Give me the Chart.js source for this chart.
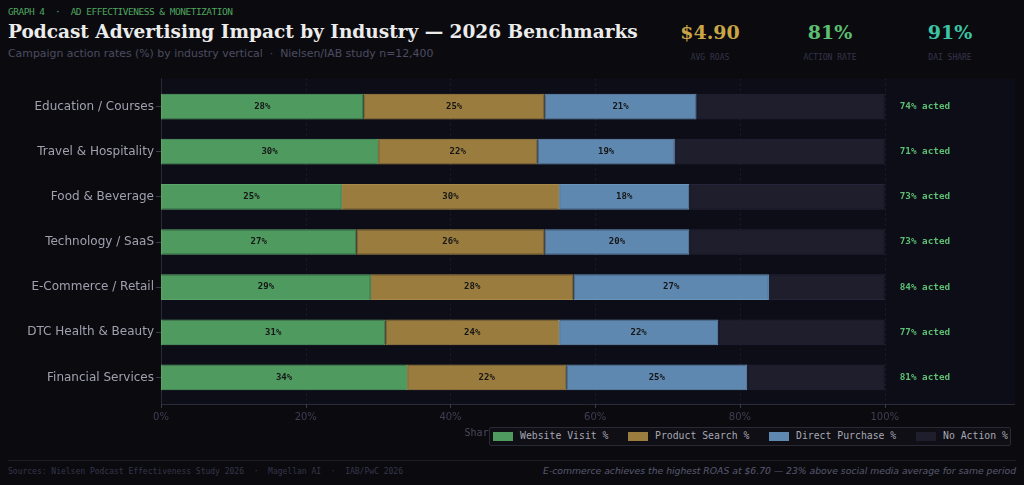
<!DOCTYPE html>
<html>
<head>
<meta charset="utf-8">
<script src="https://cdn.jsdelivr.net/npm/chart.js@4.4.1/dist/chart.umd.min.js"></script>
<style>
  html, body { margin: 0; padding: 0; background: #0b0b0f; }
  body { width: 1024px; height: 485px; position: relative; overflow: hidden; font-family: "DejaVu Sans", sans-serif; }
  .kicker { position: absolute; left: 8px; top: 6px; font: 9.5px "DejaVu Sans Mono", monospace; letter-spacing: -0.5px; color: #4fa45f; white-space: pre; }
  .title { position: absolute; left: 8px; top: 21px; font: bold 18.5px "DejaVu Serif", serif; color: #ececec; white-space: nowrap; }
  .sub { position: absolute; left: 8px; top: 47px; font: 10.9px "DejaVu Sans", sans-serif; color: #4c4c62; white-space: pre; }
  .kpi { position: absolute; top: 21px; width: 120px; text-align: center; }
  .kpi .v { font: bold 19px "DejaVu Serif", serif; }
  .kpi .l { font: 8px "DejaVu Sans Mono", monospace; color: #34344a; margin-top: 10px; }
  #wrap { position: absolute; left: 0; top: 70px; width: 1024px; height: 380px; }
  .legend { position: absolute; left: 489px; top: 427px; width: 520px; height: 17px; border: 1px solid #2a2a36; border-radius: 2px; background: #0f0f15; font: 9.8px "DejaVu Sans Mono", monospace; color: #a8a8b4; }
  .legend .sw { position: absolute; top: 4px; width: 20px; height: 9px; }
  .legend .tx { position: absolute; top: 2px; white-space: pre; }
  .sep { position: absolute; left: 8px; right: 8px; top: 460px; height: 1px; background: #1e1e28; }
  .src { position: absolute; left: 8px; top: 467px; font: 8px "DejaVu Sans Mono", monospace; color: #35354a; white-space: pre; }
  .note { position: absolute; right: 8px; top: 465px; font: italic 9.25px "DejaVu Sans", sans-serif; color: #595970; white-space: nowrap; }
</style>
</head>
<body>
<div class="kicker">GRAPH 4  ·  AD EFFECTIVENESS &amp; MONETIZATION</div>
<div class="title">Podcast Advertising Impact by Industry — 2026 Benchmarks</div>
<div class="sub">Campaign action rates (%) by industry vertical  ·  Nielsen/IAB study n=12,400</div>
<div class="kpi" style="left:650px"><div class="v" style="color:#c9a548">$4.90</div><div class="l">AVG ROAS</div></div>
<div class="kpi" style="left:770px"><div class="v" style="color:#5cbf72">81%</div><div class="l">ACTION RATE</div></div>
<div class="kpi" style="left:890px"><div class="v" style="color:#3cc4a4">91%</div><div class="l">DAI SHARE</div></div>

<div id="wrap"><canvas id="chart"></canvas></div>

<div class="legend">
  <span class="sw" style="left:3px;background:#4e9a5f"></span><span class="tx" style="left:30px">Website Visit %</span>
  <span class="sw" style="left:138px;background:#9a7d3e"></span><span class="tx" style="left:165px">Product Search %</span>
  <span class="sw" style="left:279px;background:#5f88b0"></span><span class="tx" style="left:306px">Direct Purchase %</span>
  <span class="sw" style="left:426px;background:#1e1e2c"></span><span class="tx" style="left:453px">No Action %</span>
</div>

<div class="sep"></div>
<div class="src">Sources: Nielsen Podcast Effectiveness Study 2026  ·  Magellan AI  ·  IAB/PwC 2026</div>
<div class="note">E-commerce achieves the highest ROAS at $6.70 — 23% above social media average for same period</div>

<script>
const industries = ['Education / Courses', 'Travel & Hospitality', 'Food & Beverage', 'Technology / SaaS',
  'E-Commerce / Retail', 'DTC Health & Beauty', 'Financial Services'];
const websiteVisit   = [28, 30, 25, 27, 29, 31, 34];
const productSearch  = [25, 22, 30, 26, 28, 24, 22];
const directPurchase = [21, 19, 18, 20, 27, 22, 25];
const noAction       = [26, 29, 27, 27, 16, 23, 19];
const xTicks = [0, 20, 40, 60, 80, 100];

const PAD_TOP = 5.5, PAD_BOT = 4; // plot frame extends a bit past the outer bars

// background, dashed grid, axis lines, tick marks
const frame = {
  id: 'frame',
  beforeDatasetsDraw(chart) {
    const { ctx, chartArea: a, scales: { x } } = chart;
    const top = a.top - PAD_TOP, bot = Math.round(a.bottom + PAD_BOT);
    ctx.save();
    ctx.fillStyle = '#0d0d17';
    ctx.fillRect(a.left, top, a.right - a.left, bot - top);
    ctx.strokeStyle = '#1d1d2a';
    ctx.lineWidth = 1;
    ctx.setLineDash([2, 3]);
    xTicks.forEach(v => {
      const px = Math.round(x.getPixelForValue(v)) + 0.5;
      ctx.beginPath(); ctx.moveTo(px, top); ctx.lineTo(px, bot); ctx.stroke();
    });
    ctx.setLineDash([]);
    ctx.strokeStyle = '#2a2a38';
    ctx.beginPath();
    ctx.moveTo(a.left + 0.5, top); ctx.lineTo(a.left + 0.5, bot + 0.5); ctx.lineTo(a.right, bot + 0.5);
    ctx.stroke();
    ctx.strokeStyle = '#3a3a48';
    xTicks.forEach(v => {
      const px = Math.round(x.getPixelForValue(v)) + 0.5;
      ctx.beginPath(); ctx.moveTo(px, bot); ctx.lineTo(px, bot + 4); ctx.stroke();
    });
    ctx.restore();
  }
};

// segment values and "acted" totals
const labels = {
  id: 'labels',
  afterDatasetsDraw(chart) {
    const { ctx, scales: { x, y } } = chart;
    ctx.save();
    ctx.textBaseline = 'middle';
    for (let d = 0; d < 3; d++) {
      chart.getDatasetMeta(d).data.forEach((bar, i) => {
        ctx.font = 'bold 9px "DejaVu Sans Mono", monospace';
        ctx.fillStyle = '#161616';
        ctx.textAlign = 'center';
        ctx.fillText(chart.data.datasets[d].data[i] + '%', (bar.x + bar.base) / 2, bar.y);
      });
    }
    industries.forEach((c, i) => {
      const acted = websiteVisit[i] + productSearch[i] + directPurchase[i];
      ctx.font = 'bold 9.3px "DejaVu Sans Mono", monospace';
      ctx.fillStyle = '#5cbf72';
      ctx.textAlign = 'left';
      ctx.fillText(acted + '% acted', x.getPixelForValue(100) + 15, y.getPixelForValue(i));
    });
    ctx.restore();
  }
};

function ds(label, data, color, border) {
  return { label, data, backgroundColor: color, borderColor: border, borderWidth: 1, borderSkipped: false,
    barPercentage: 0.57, categoryPercentage: 1 };
}

new Chart(document.getElementById('chart'), {
  type: 'bar',
  data: {
    labels: industries,
    datasets: [
      ds('Website Visit %', websiteVisit, '#4e9a5f', '#5aa66a'),
      ds('Product Search %', productSearch, '#9a7d3e', '#a8894a'),
      ds('Direct Purchase %', directPurchase, '#5f88b0', '#6b94bc'),
      ds('No Action %', noAction, '#1e1e2c', '#24243a')
    ]
  },
  options: {
    indexAxis: 'y',
    responsive: true,
    maintainAspectRatio: false,
    animation: false,
    layout: { padding: { top: 14, right: 9, left: 0, bottom: 0 } },
    plugins: { legend: { display: false }, tooltip: { enabled: false } },
    scales: {
      x: {
        stacked: true, min: 0, max: 118,
        afterBuildTicks: s => { s.ticks = xTicks.map(v => ({ value: v })); },
        afterFit: s => { s.height = 50; },
        grid: { display: false }, border: { display: false },
        ticks: { color: '#3e3e52', font: { family: 'DejaVu Sans', size: 10 }, padding: 3,
          callback: v => v + '%' },
        title: { display: true, text: 'Share of podcast listeners that acted (%)', color: '#4a4a5e',
          font: { family: 'DejaVu Sans Mono', size: 10 }, padding: { top: 0, bottom: 11 } }
      },
      y: {
        stacked: true,
        afterFit: s => { s.width = 161; },
        grid: { drawOnChartArea: false, offset: false, color: '#3a3a48', tickLength: 5 },
        border: { display: false },
        ticks: { color: '#a0a0b0', font: { family: 'DejaVu Sans', size: 12 }, padding: 2 }
      }
    }
  },
  plugins: [frame, labels]
});
</script>
</body>
</html>
